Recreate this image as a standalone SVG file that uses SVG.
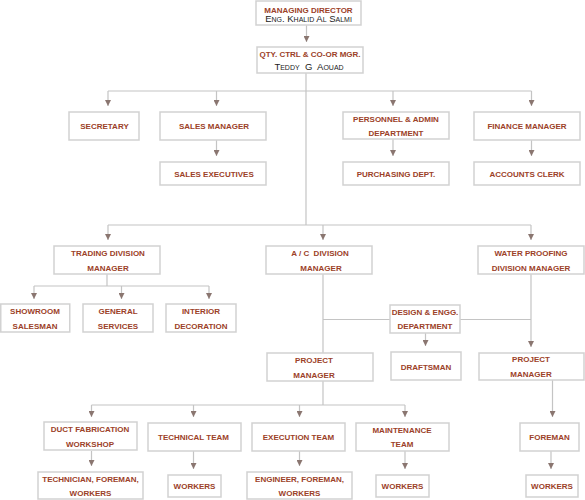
<svg xmlns="http://www.w3.org/2000/svg" width="585" height="500" viewBox="0 0 585 500">
<defs>
<marker id="ah" markerUnits="userSpaceOnUse" markerWidth="7" markerHeight="6" refX="6" refY="3" orient="auto">
<path d="M0,0 L6,3 L0,6 z" fill="#8a7670"/>
</marker>
<style>
.b{fill:#fff;stroke:#d2d2d2;stroke-width:1.5}
.t{font-family:"Liberation Sans",Arial,sans-serif;font-size:8px;font-weight:bold;fill:#9c4128;text-anchor:middle}
.s{font-family:"Liberation Sans",Arial,sans-serif;font-size:9.5px;font-variant:small-caps;fill:#222;text-anchor:middle}
.c line{stroke:#c4c4c4;stroke-width:1.2}
.c line.a{marker-end:url(#ah)}
</style>
</defs>
<rect width="585" height="500" fill="#fff"/>
<g class="c" id="connectors">
<line class="a" x1="306.5" y1="25" x2="306.5" y2="42"/>
<line x1="306" y1="73" x2="306" y2="225"/>
<line x1="108" y1="91" x2="531.5" y2="91"/>
<line class="a" x1="108" y1="91" x2="108" y2="106"/>
<line class="a" x1="216.5" y1="91" x2="216.5" y2="106"/>
<line class="a" x1="393" y1="91" x2="393" y2="106"/>
<line class="a" x1="531.5" y1="91" x2="531.5" y2="106"/>
<line class="a" x1="216.5" y1="140" x2="216.5" y2="156"/>
<line class="a" x1="393" y1="139" x2="393" y2="156"/>
<line class="a" x1="531.5" y1="140" x2="531.5" y2="156"/>
<line x1="108" y1="225" x2="531" y2="225"/>
<line class="a" x1="108" y1="225" x2="108" y2="240"/>
<line class="a" x1="323" y1="225" x2="323" y2="240"/>
<line class="a" x1="531" y1="225" x2="531" y2="240"/>
<line x1="107" y1="274" x2="107" y2="286"/>
<line x1="34" y1="286" x2="209" y2="286"/>
<line class="a" x1="34" y1="286" x2="34" y2="299"/>
<line class="a" x1="121.5" y1="286" x2="121.5" y2="299"/>
<line class="a" x1="209" y1="286" x2="209" y2="299"/>
<line x1="323" y1="274" x2="323" y2="353"/>
<line x1="323" y1="381" x2="323" y2="405"/>
<line x1="323" y1="319.5" x2="390" y2="319.5"/>
<line x1="460" y1="319.5" x2="531" y2="319.5"/>
<line class="a" x1="531" y1="274" x2="531" y2="347"/>
<line class="a" x1="425.5" y1="333" x2="425.5" y2="346"/>
<line class="a" x1="552.5" y1="380" x2="552.5" y2="417"/>
<line class="a" x1="551" y1="451" x2="551" y2="469"/>
<line x1="91.5" y1="405" x2="405" y2="405"/>
<line class="a" x1="91.5" y1="405" x2="91.5" y2="417"/>
<line class="a" x1="193.5" y1="405" x2="193.5" y2="417"/>
<line class="a" x1="299.5" y1="405" x2="299.5" y2="417"/>
<line class="a" x1="405" y1="405" x2="405" y2="417"/>
<line class="a" x1="91.5" y1="451" x2="91.5" y2="466"/>
<line class="a" x1="193.5" y1="451" x2="193.5" y2="469"/>
<line class="a" x1="299.5" y1="451" x2="299.5" y2="466"/>
<line class="a" x1="405" y1="451" x2="405" y2="469"/>
</g>
<g id="md"><rect class="b" x="256" y="1" width="105" height="24"/><text class="t" x="308.5" y="12.5">MANAGING DIRECTOR</text><text class="s" x="308.5" y="22">Eng. Khalid Al Salmi</text></g>
<g id="qty"><rect class="b" x="257" y="47" width="106" height="26"/><text class="t" x="310" y="56.5">QTY. CTRL &amp; CO-OR MGR.</text><text class="s" x="309" y="70" xml:space="preserve">Teddy  G  Aouad</text></g>
<g id="secretary"><rect class="b" x="69" y="112" width="70" height="28"/><text class="t" x="104.5" y="129">SECRETARY</text></g>
<g id="sales-manager"><rect class="b" x="160" y="112" width="106" height="28"/><text class="t" x="214" y="129">SALES MANAGER</text></g>
<g id="sales-exec"><rect class="b" x="160" y="162" width="106" height="23"/><text class="t" x="214" y="177">SALES EXECUTIVES</text></g>
<g id="personnel"><rect class="b" x="343" y="112" width="106" height="27"/><text class="t" x="396" y="121.5">PERSONNEL &amp; ADMIN</text><text class="t" x="396" y="136">DEPARTMENT</text></g>
<g id="purchasing"><rect class="b" x="343" y="162" width="106" height="23"/><text class="t" x="396" y="177">PURCHASING DEPT.</text></g>
<g id="finance"><rect class="b" x="474" y="112" width="106" height="28"/><text class="t" x="527" y="129">FINANCE MANAGER</text></g>
<g id="accounts"><rect class="b" x="474" y="162" width="106" height="23"/><text class="t" x="527" y="177">ACCOUNTS CLERK</text></g>
<g id="trading"><rect class="b" x="54" y="246" width="106" height="28"/><text class="t" x="108" y="256">TRADING DIVISION</text><text class="t" x="108" y="270.5">MANAGER</text></g>
<g id="ac"><rect class="b" x="266" y="246" width="106" height="28"/><text class="t" x="320" y="256" xml:space="preserve">A / C  DIVISION</text><text class="t" x="321" y="270.5">MANAGER</text></g>
<g id="wp"><rect class="b" x="478" y="246" width="106" height="28"/><text class="t" x="531" y="256">WATER PROOFING</text><text class="t" x="531" y="270.5">DIVISION MANAGER</text></g>
<g id="showroom"><rect class="b" x="0.75" y="304" width="69" height="28"/><text class="t" x="35" y="314">SHOWROOM</text><text class="t" x="35" y="328.5">SALESMAN</text></g>
<g id="general"><rect class="b" x="83" y="304" width="70" height="28"/><text class="t" x="118" y="314">GENERAL</text><text class="t" x="118" y="328.5">SERVICES</text></g>
<g id="interior"><rect class="b" x="166" y="304" width="70" height="28"/><text class="t" x="201" y="314">INTERIOR</text><text class="t" x="201" y="328.5">DECORATION</text></g>
<g id="design"><rect class="b" x="390" y="305" width="70" height="28"/><text class="t" x="425" y="314.5">DESIGN &amp; ENGG.</text><text class="t" x="425" y="329">DEPARTMENT</text></g>
<g id="pm-ac"><rect class="b" x="267" y="353" width="106" height="28"/><text class="t" x="314" y="363">PROJECT</text><text class="t" x="314" y="377.5">MANAGER</text></g>
<g id="draftsman"><rect class="b" x="391" y="352" width="70" height="28"/><text class="t" x="426" y="369.5">DRAFTSMAN</text></g>
<g id="pm-wp"><rect class="b" x="479" y="353" width="105" height="27"/><text class="t" x="531" y="362">PROJECT</text><text class="t" x="531" y="376.5">MANAGER</text></g>
<g id="duct"><rect class="b" x="44" y="422" width="93" height="28"/><text class="t" x="90" y="432">DUCT FABRICATION</text><text class="t" x="90" y="446.5">WORKSHOP</text></g>
<g id="technical"><rect class="b" x="148" y="423" width="93" height="28"/><text class="t" x="193.5" y="439.5">TECHNICAL TEAM</text></g>
<g id="execution"><rect class="b" x="252" y="423" width="93" height="28"/><text class="t" x="298.5" y="439.5">EXECUTION TEAM</text></g>
<g id="maintenance"><rect class="b" x="356" y="423" width="93" height="28"/><text class="t" x="402" y="432.5">MAINTENANCE</text><text class="t" x="402" y="447">TEAM</text></g>
<g id="foreman"><rect class="b" x="520" y="423" width="59" height="28"/><text class="t" x="549.5" y="439.5">FOREMAN</text></g>
<g id="technician"><rect class="b" x="38" y="472" width="105" height="27"/><text class="t" x="90.5" y="482">TECHNICIAN, FOREMAN,</text><text class="t" x="90.5" y="496">WORKERS</text></g>
<g id="workers-tech"><rect class="b" x="168" y="475" width="53" height="22"/><text class="t" x="194.5" y="489">WORKERS</text></g>
<g id="engineer"><rect class="b" x="247" y="472" width="105" height="27"/><text class="t" x="299.5" y="482">ENGINEER, FOREMAN,</text><text class="t" x="299.5" y="496">WORKERS</text></g>
<g id="workers-maint"><rect class="b" x="376" y="475" width="53" height="22"/><text class="t" x="402.5" y="489">WORKERS</text></g>
<g id="workers-fore"><rect class="b" x="526" y="475" width="52" height="22"/><text class="t" x="552" y="489">WORKERS</text></g>
</svg>
